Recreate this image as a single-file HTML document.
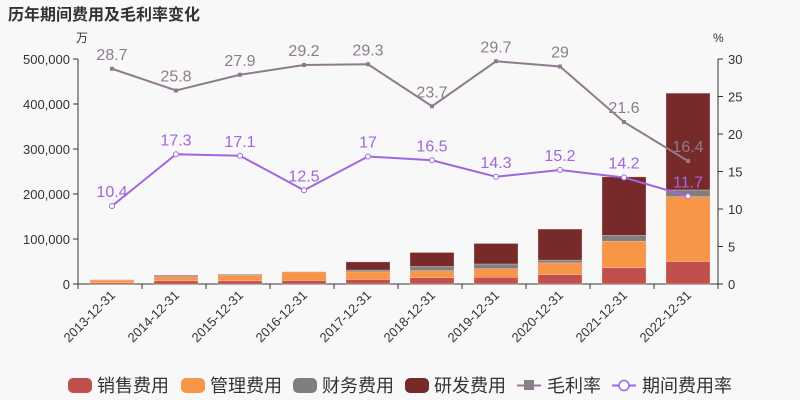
<!DOCTYPE html>
<html><head><meta charset="utf-8"><style>
body{margin:0;background:#f8f8f8;}
svg{font-family:"Liberation Sans","Noto Sans CJK SC",sans-serif;display:block}
</style></head><body>
<svg id="c" width="800" height="400">
<rect width="800" height="400" fill="#f8f8f8"/>
<text x="8" y="20" font-size="16" font-weight="bold" fill="#333">历年期间费用及毛利率变化</text>
<text x="76" y="42" font-size="12" fill="#333">万</text>
<text x="713" y="42" font-size="12" fill="#333">%</text>
<g id="g"></g>
</svg>
<script>
const categories=["2013-12-31","2014-12-31","2015-12-31","2016-12-31","2017-12-31","2018-12-31","2019-12-31","2020-12-31","2021-12-31","2022-12-31"];
const sales=[3000,7000,7000,8000,10000,14000,15000,21000,36000,50000];
const mgmt=[6000,9000,12000,19000,17000,15500,19000,26000,59000,144000];
const fin=[500,3000,2000,500,4000,9500,10500,6000,13000,15000];
const rd=[0,1000,1000,0,18000,31000,45500,69000,130000,215000];
const margin=[28.7,25.8,27.9,29.2,29.3,23.7,29.7,29,21.6,16.4];
const period=[10.4,17.3,17.1,12.5,17,16.5,14.3,15.2,14.2,11.7];
const leftTicks=[0,100000,200000,300000,400000,500000];
const rightTicks=[0,5,10,15,20,25,30];
const NS="http://www.w3.org/2000/svg";
const g=document.getElementById('g');
const X0=80,X1=720,Y0=284,Y1=59;
const band=(X1-X0)/categories.length;
const xc=i=>X0+band*(i+0.5);
const yl=v=>Y0-(v/500000)*(Y0-Y1);
const yr=v=>Y0-(v/30)*(Y0-Y1);
function mk(t,a,p){const e=document.createElementNS(NS,t);for(const k in a)e.setAttribute(k,a[k]);(p||g).appendChild(e);return e;}
mk('line',{x1:X0-2,y1:Y1,x2:X0-2,y2:Y0,stroke:'#333'});
mk('line',{x1:X1-2,y1:Y1,x2:X1-2,y2:Y0,stroke:'#333'});
mk('line',{x1:X0-2,y1:Y0,x2:X1-2,y2:Y0,stroke:'#333'});
leftTicks.forEach(v=>{mk('line',{x1:X0-7,y1:yl(v),x2:X0-2,y2:yl(v),stroke:'#333'});
const t=mk('text',{x:X0-10,y:yl(v)+5,'font-size':13,fill:'#333','text-anchor':'end'});t.textContent=v.toLocaleString('en-US');

});
rightTicks.forEach(v=>{mk('line',{x1:X1-2,y1:yr(v),x2:X1+3,y2:yr(v),stroke:'#333'});
const t=mk('text',{x:X1+8,y:yr(v)+5,'font-size':13,fill:'#333'});t.textContent=v;

});
for(let i=0;i<=categories.length;i++)mk('line',{x1:X0-2+band*i,y1:Y0,x2:X0-2+band*i,y2:Y0+5,stroke:'#333'});
categories.forEach((c,i)=>{const t=mk('text',{x:xc(i)+4,y:Y0+12,'font-size':13,fill:'#333','text-anchor':'end',transform:`rotate(-45 ${xc(i)+4} ${Y0+12})`});t.textContent=c;

});
const series=[[sales,'#c0504d','sales'],[mgmt,'#f79646','mgmt'],[fin,'#7f7f7f','fin'],[rd,'#772a2a','rd']];
categories.forEach((c,i)=>{let acc=0;series.forEach(([arr,col,n])=>{const v=arr[i];if(v<=0)return;
const r=mk('rect',{x:xc(i)-22,y:yl(acc+v),width:44,height:yl(acc)-yl(acc+v),fill:col,stroke:'rgba(255,220,220,0.6)','stroke-width':0.5});

acc+=v;});});
function line(arr,col,name,sq){
const pl=mk('polyline',{points:arr.map((v,i)=>xc(i)+','+yr(v)).join(' '),fill:'none',stroke:col,'stroke-width':2});


arr.forEach((v,i)=>{let p;if(sq)p=mk('rect',{x:xc(i)-2,y:yr(v)-2,width:4,height:4,fill:col});else p=mk('circle',{cx:xc(i),cy:yr(v),r:2.5,fill:'#fff',stroke:col,'stroke-width':1});


const t=mk('text',{x:xc(i),y:yr(v)-9,'font-size':16,fill:col,'text-anchor':'middle'});t.textContent=v;

});}
line(margin,'#8e7c8e','margin',true);
line(period,'#a066e0','period',false);
const leg=[['销售费用','#c0504d',68],['管理费用','#f79646',181],['财务费用','#7f7f7f',293],['研发费用','#772a2a',405]];
leg.forEach(([l,c,x])=>{const gg=mk('g',{});
mk('rect',{x:x,y:378,width:24,height:15,rx:5,fill:c},gg);const t=mk('text',{x:x+29,y:392,'font-size':18,fill:'#333'},gg);t.textContent=l;});
[['毛利率','#8e7c8e',517,true],['期间费用率','#a066e0',612,false]].forEach(([l,c,x,sq])=>{const gg=mk('g',{});
mk('line',{x1:x,y1:385.5,x2:x+24,y2:385.5,stroke:c,'stroke-width':2},gg);
if(sq)mk('rect',{x:x+7,y:380,width:10,height:10,fill:c},gg);else mk('circle',{cx:x+12,cy:385.5,r:5,fill:'#fff',stroke:c,'stroke-width':1.5},gg);
const t=mk('text',{x:x+30,y:392,'font-size':18,fill:'#333'},gg);t.textContent=l;});
</script>
</body></html>
